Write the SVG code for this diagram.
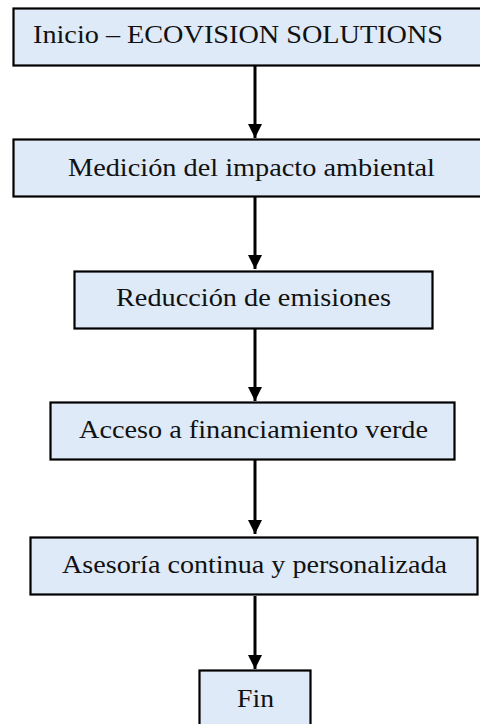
<svg xmlns="http://www.w3.org/2000/svg" width="480" height="724" viewBox="0 0 480 724">
<style>
.box{fill:#deeaf7;stroke:#000;stroke-width:2.2}
.t{font-family:"Liberation Serif","Times New Roman",serif;font-size:26px;fill:#111}
.ln{stroke:#000;stroke-width:3;fill:none}
</style>
<defs>
<marker id="ah" markerUnits="userSpaceOnUse" markerWidth="14" markerHeight="14" refX="14" refY="7" orient="auto">
<path d="M0,0 L14,7 L0,14 Z" fill="#000"/>
</marker>
</defs>
<rect width="480" height="724" fill="#fff"/>
<g id="connectors">
<line class="ln" x1="255" y1="66" x2="255" y2="138" marker-end="url(#ah)"/>
<line class="ln" x1="255" y1="197" x2="255" y2="269" marker-end="url(#ah)"/>
<line class="ln" x1="255" y1="329" x2="255" y2="401" marker-end="url(#ah)"/>
<line class="ln" x1="255" y1="460" x2="255" y2="534" marker-end="url(#ah)"/>
<line class="ln" x1="255" y1="596" x2="255" y2="669" marker-end="url(#ah)"/>
</g>
<g id="n1">
<rect class="box" x="13.5" y="8.5" width="480" height="57"/>
<text class="t" x="33" y="43" textLength="410" lengthAdjust="spacingAndGlyphs">Inicio – ECOVISION SOLUTIONS</text>
</g>
<g id="n2">
<rect class="box" x="13.5" y="139.5" width="480" height="57"/>
<text class="t" x="68" y="176" textLength="367" lengthAdjust="spacingAndGlyphs">Medición del impacto ambiental</text>
</g>
<g id="n3">
<rect class="box" x="74.5" y="271.5" width="358" height="57"/>
<text class="t" x="116" y="306" textLength="275" lengthAdjust="spacingAndGlyphs">Reducción de emisiones</text>
</g>
<g id="n4">
<rect class="box" x="50.5" y="402.5" width="404" height="57"/>
<text class="t" x="79" y="438" textLength="349" lengthAdjust="spacingAndGlyphs">Acceso a financiamiento verde</text>
</g>
<g id="n5">
<rect class="box" x="30.5" y="537.5" width="447" height="57"/>
<text class="t" x="62" y="573" textLength="385" lengthAdjust="spacingAndGlyphs">Asesoría continua y personalizada</text>
</g>
<g id="n6">
<rect class="box" x="199.5" y="670.5" width="111" height="70"/>
<text class="t" x="237" y="707" textLength="37" lengthAdjust="spacingAndGlyphs">Fin</text>
</g>
</svg>
